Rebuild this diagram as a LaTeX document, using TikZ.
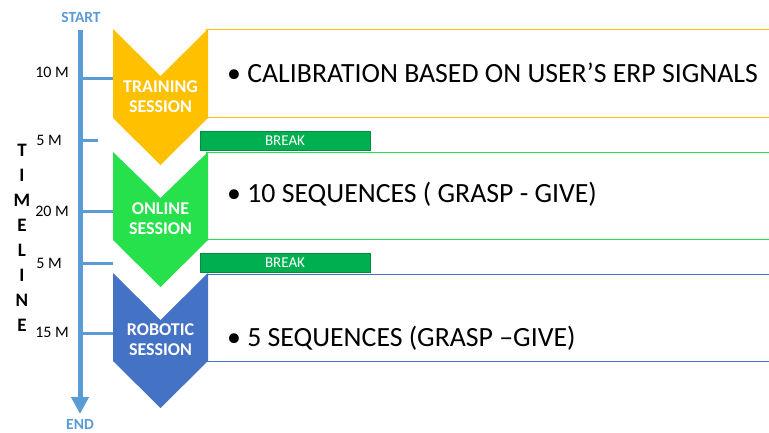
\documentclass[tikz,border=0pt]{standalone}
\usepackage{fontspec}
\setmainfont{Carlito}
\usetikzlibrary{arrows.meta}
\definecolor{tlblue}{HTML}{5B9BD5}
\definecolor{trainc}{HTML}{FFC000}
\definecolor{onlinec}{HTML}{26E04C}
\definecolor{robotc}{HTML}{4472C4}
\definecolor{breakc}{HTML}{00B050}
\begin{document}
\begin{tikzpicture}[x=1pt,y=-1pt,
  chevron/.style={fill=#1,draw=none},
  infobox/.style={draw=#1,line width=0.9pt},
  sesslabel/.style={text=white,font=\fontsize{18}{20}\selectfont\bfseries,align=center,inner sep=0pt},
  bullettext/.style={anchor=west,font=\fontsize{27.8}{32}\selectfont,inner sep=0pt},
  breakbar/.style={fill=breakc,draw=breakc!80!black,line width=0.4pt,minimum width=170pt,minimum height=19pt,inner sep=0pt,text=white,font=\fontsize{15}{17}\selectfont},
  tick/.style={draw=tlblue,line width=3pt},
  ticklabel/.style={anchor=east,font=\fontsize{16}{18}\selectfont,inner sep=0pt},
  tlletter/.style={font=\fontsize{19}{22}\selectfont\bfseries,inner sep=0pt},
  endlabel/.style={text=tlblue,font=\fontsize{15.5}{17}\selectfont\bfseries,inner sep=0pt}]
\useasboundingbox (0,0) rectangle (769,432);

% text panels behind the chevrons
\draw[infobox=trainc] (769,29) -- (206,29) -- (206,117.5) -- (769,117.5);
\draw[infobox=onlinec] (769,152) -- (206,152) -- (206,239.5) -- (769,239.5);
\draw[infobox=robotc] (769,274) -- (206,274) -- (206,361.5) -- (769,361.5);

% chevrons
\fill[chevron=trainc] (113,29) -- (160.5,76) -- (208,29) -- (208,118) -- (160.5,165) -- (113,118) -- cycle;
\fill[chevron=onlinec] (113,152) -- (160.5,198) -- (208,152) -- (208,240) -- (160.5,287) -- (113,240) -- cycle;
\fill[chevron=robotc] (113,273) -- (160.5,320) -- (208,273) -- (208,361) -- (160.5,408) -- (113,361) -- cycle;

\node[sesslabel] (train) at (160.5,96.5) {TRAINING\\SESSION};
\node[sesslabel] (online) at (160.5,218.5) {ONLINE\\SESSION};
\node[sesslabel] (robot) at (160.5,340) {ROBOTIC\\SESSION};

% panel texts
\node[bullettext] (t1) at (227,73) {\textbullet\ CALIBRATION BASED ON USER’S ERP SIGNALS};
\node[bullettext] (t2) at (227,194) {\textbullet\ 10 SEQUENCES ( GRASP - GIVE)};
\node[bullettext] (t3) at (227,338) {\textbullet\ 5 SEQUENCES (GRASP –GIVE)};

% breaks
\node[breakbar] (b1) at (285,140.5) {BREAK};
\node[breakbar] (b2) at (285,262.5) {BREAK};

% timeline
\node[endlabel] (start) at (81,17) {START};
\node[endlabel] (end) at (80,424) {END};
\coordinate (top) at (80,30);
\coordinate (bottom) at (80,414);
\draw[draw=tlblue,line width=5pt,-{Triangle[length=17pt,width=17pt]}] (top) -- (bottom);

\coordinate (k1) at (80,78);
\coordinate (k2) at (80,140);
\coordinate (k3) at (80,211);
\coordinate (k4) at (80,263);
\coordinate (k5) at (80,333);
\draw[tick] (k1) -- (113,78);
\draw[tick] (k2) -- (98,140);
\draw[tick] (k3) -- (113,211);
\draw[tick] (k4) -- (113,263);
\draw[tick] (k5) -- (113,333);

\node[ticklabel] (l1) at (69,72) {10 M};
\node[ticklabel] (l2) at (62,140) {5 M};
\node[ticklabel] (l3) at (69,211) {20 M};
\node[ticklabel] (l4) at (62,263) {5 M};
\node[ticklabel] (l5) at (69,332) {15 M};

% vertical caption
\foreach \ch [count=\i from 0] in {T,I,M,E,L,I,N,E}
  \node[tlletter] (tl\i) at (22,150+25*\i) {\ch};
\end{tikzpicture}
\end{document}
